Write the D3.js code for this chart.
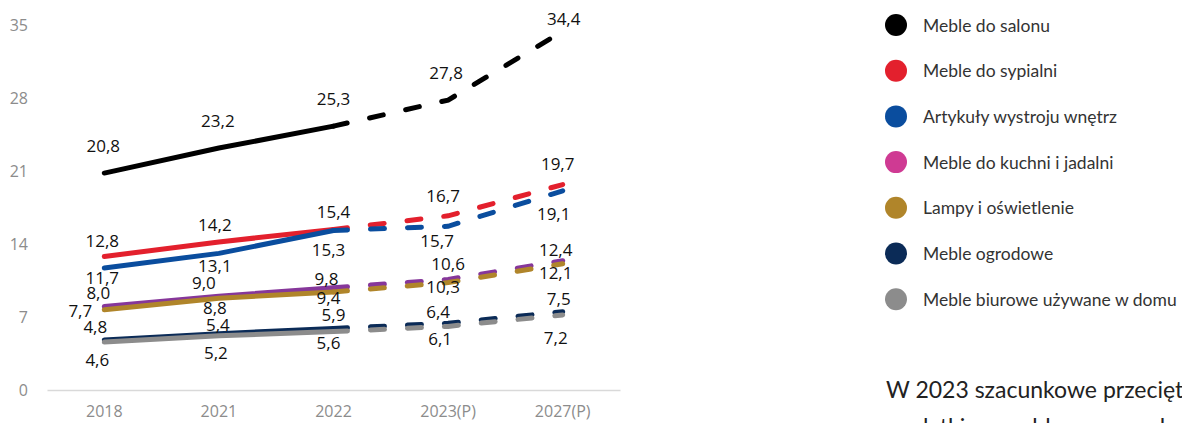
<!DOCTYPE html>
<html>
<head>
<meta charset="utf-8">
<script src="https://cdn.jsdelivr.net/npm/d3@7"></script>
<style>
  body { margin: 0; background: #fff; overflow: hidden; }
  svg { display: block; }
  .val { font-family: "Open Sans", sans-serif; font-size: 17px; fill: #111; }
  .axis text { font-family: "Open Sans", sans-serif; font-size: 16px; fill: #8c8c8c; }
  .legend text { font-family: Lato, sans-serif; font-size: 17.5px; fill: #333; }
  .note { font-family: Lato, sans-serif; font-size: 23px; fill: #222; }
</style>
</head>
<body>
<svg id="chart" width="1182" height="423"></svg>
<script>
const years = ["2018", "2021", "2022", "2023(P)", "2027(P)"];
const yTicks = [0, 7, 14, 21, 28, 35];

const names = [
  "Meble do salonu",
  "Meble do sypialni",
  "Artykuły wystroju wnętrz",
  "Meble do kuchni i jadalni",
  "Lampy i oświetlenie",
  "Meble ogrodowe",
  "Meble biurowe używane w domu"
];

const salon    = [20.8, 23.2, 25.3, 27.8, 34.4];
const sypialnia = [12.8, 14.2, 15.4, 16.7, 19.7];
const wystroj  = [11.7, 13.1, 15.3, 15.7, 19.1];
const kuchnia  = [8.0, 9.0, 9.8, 10.6, 12.4];
const lampy    = [7.7, 8.8, 9.4, 10.3, 12.1];
const ogrodowe = [4.8, 5.4, 5.9, 6.4, 7.5];
const biurowe  = [4.6, 5.2, 5.6, 6.1, 7.2];

const series = [salon, sypialnia, wystroj, kuchnia, lampy, ogrodowe, biurowe];

// line colours and legend dot colours (legend uses a pinker tone for kuchnia)
const lineColors   = ["#000000", "#e3202d", "#0a4d9e", "#86379a", "#b0852a", "#0b2b57", "#8c8c8c"];
const legendColors = ["#000000", "#e3202d", "#0a4d9e", "#cf3a93", "#b0852a", "#0b2b57", "#8c8c8c"];

// label offsets [dx, dy] relative to each point, per series
const labelOffsets = [
  [[-1, -28], [-1, -28], [0, -28], [-2, -28], [1, -13]],
  [[-2, -16], [-4, -17], [0, -18], [-5, -20], [-5, -21]],
  [[-2, 10], [-4, 12], [-5, 19], [-11, 14], [-9, 23]],
  [[-6, -14], [-15, -14], [-7, -9], [0, -16], [-7, -11]],
  [[-24, 1], [-4, 9], [-5, 6], [-5, 4], [-7, 9]],
  [[-9, -13], [-1, -9], [0, -14], [-10, -12], [-4, -13]],
  [[-7, 17], [-3, 17], [-5, 11], [-8, 12], [-7, 23]]
];

const svg = d3.select('#chart');

const x = d3.scaleBand()
  .domain(years)
  .range([47, 620])
  .padding(0);

const y = d3.scaleLinear()
  .domain([0, 35])
  .range([390, 25]);

const cx = d => x(d) + x.bandwidth() / 2;

// AXES
//
const xAxis = svg.append('g')
  .attr('class', 'axis')
  .attr('transform', `translate(0,390)`)
  .call(d3.axisBottom(x).tickSize(0).tickSizeOuter(0).tickPadding(16));

xAxis.select('.domain').attr('stroke', "#d9d9d9").attr('stroke-width', 1.5);

const yAxis = svg.append('g')
  .attr('class', 'axis')
  .attr('transform', `translate(30,0)`)
  .call(d3.axisLeft(y).tickValues(yTicks).tickSize(0).tickPadding(2));

yAxis.select('.domain').remove();

// LINES
//
const line = d3.line()
  .x(d => cx(d.year))
  .y(d => y(d.v));

const plot = svg.append('g').attr('id', "lines");

series.forEach((s, i) => {
  const pts = s.map((v, j) => ({ year: years[j], v: v }));

  plot.append('path')
    .attr('d', line(pts.slice(0, 3)))
    .attr('fill', "none")
    .attr('stroke', lineColors[i])
    .attr('stroke-width', 5)
    .attr('stroke-linecap', "round")
    .attr('stroke-linejoin', "round");

  plot.append('path')
    .attr('d', line(pts.slice(2)))
    .attr('fill', "none")
    .attr('stroke', lineColors[i])
    .attr('stroke-width', 5)
    .attr('stroke-linecap', "round")
    .attr('stroke-dasharray', "14 23");
});

// VALUE LABELS
//
const labels = svg.append('g').attr('id', "labels");

series.forEach((s, i) => {
  labels.selectAll(`text.s${i}`)
    .data(s).enter()
    .append('text')
    .attr('class', `val s${i}`)
    .attr('text-anchor', "middle")
    .attr('dominant-baseline', "central")
    .attr('x', (d, j) => cx(years[j]) + labelOffsets[i][j][0])
    .attr('y', (d, j) => y(d) + labelOffsets[i][j][1])
    .text(d => d.toFixed(1).replace('.', ','));
});

// LEGEND
//
const legend = svg.append('g')
  .attr('class', 'legend')
  .attr('transform', `translate(896,25)`);

const items = legend.selectAll('g')
  .data(names).enter()
  .append('g')
  .attr('transform', (d, i) => `translate(0,${ i * 45.7 })`);

items.append('circle')
  .attr('r', 11)
  .attr('fill', (d, i) => legendColors[i]);

items.append('text')
  .attr('x', 27)
  .attr('dominant-baseline', "central")
  .text(d => d);

// NOTE TEXT (cut off by the frame)
//
svg.append('text')
  .attr('class', 'note')
  .attr('x', 886)
  .attr('y', 398)
  .text("W 2023 szacunkowe przeciętne");

svg.append('text')
  .attr('class', 'note')
  .attr('x', 886)
  .attr('y', 435)
  .text("wydatki na meble w gospodarstwie");
</script>
</body>
</html>
